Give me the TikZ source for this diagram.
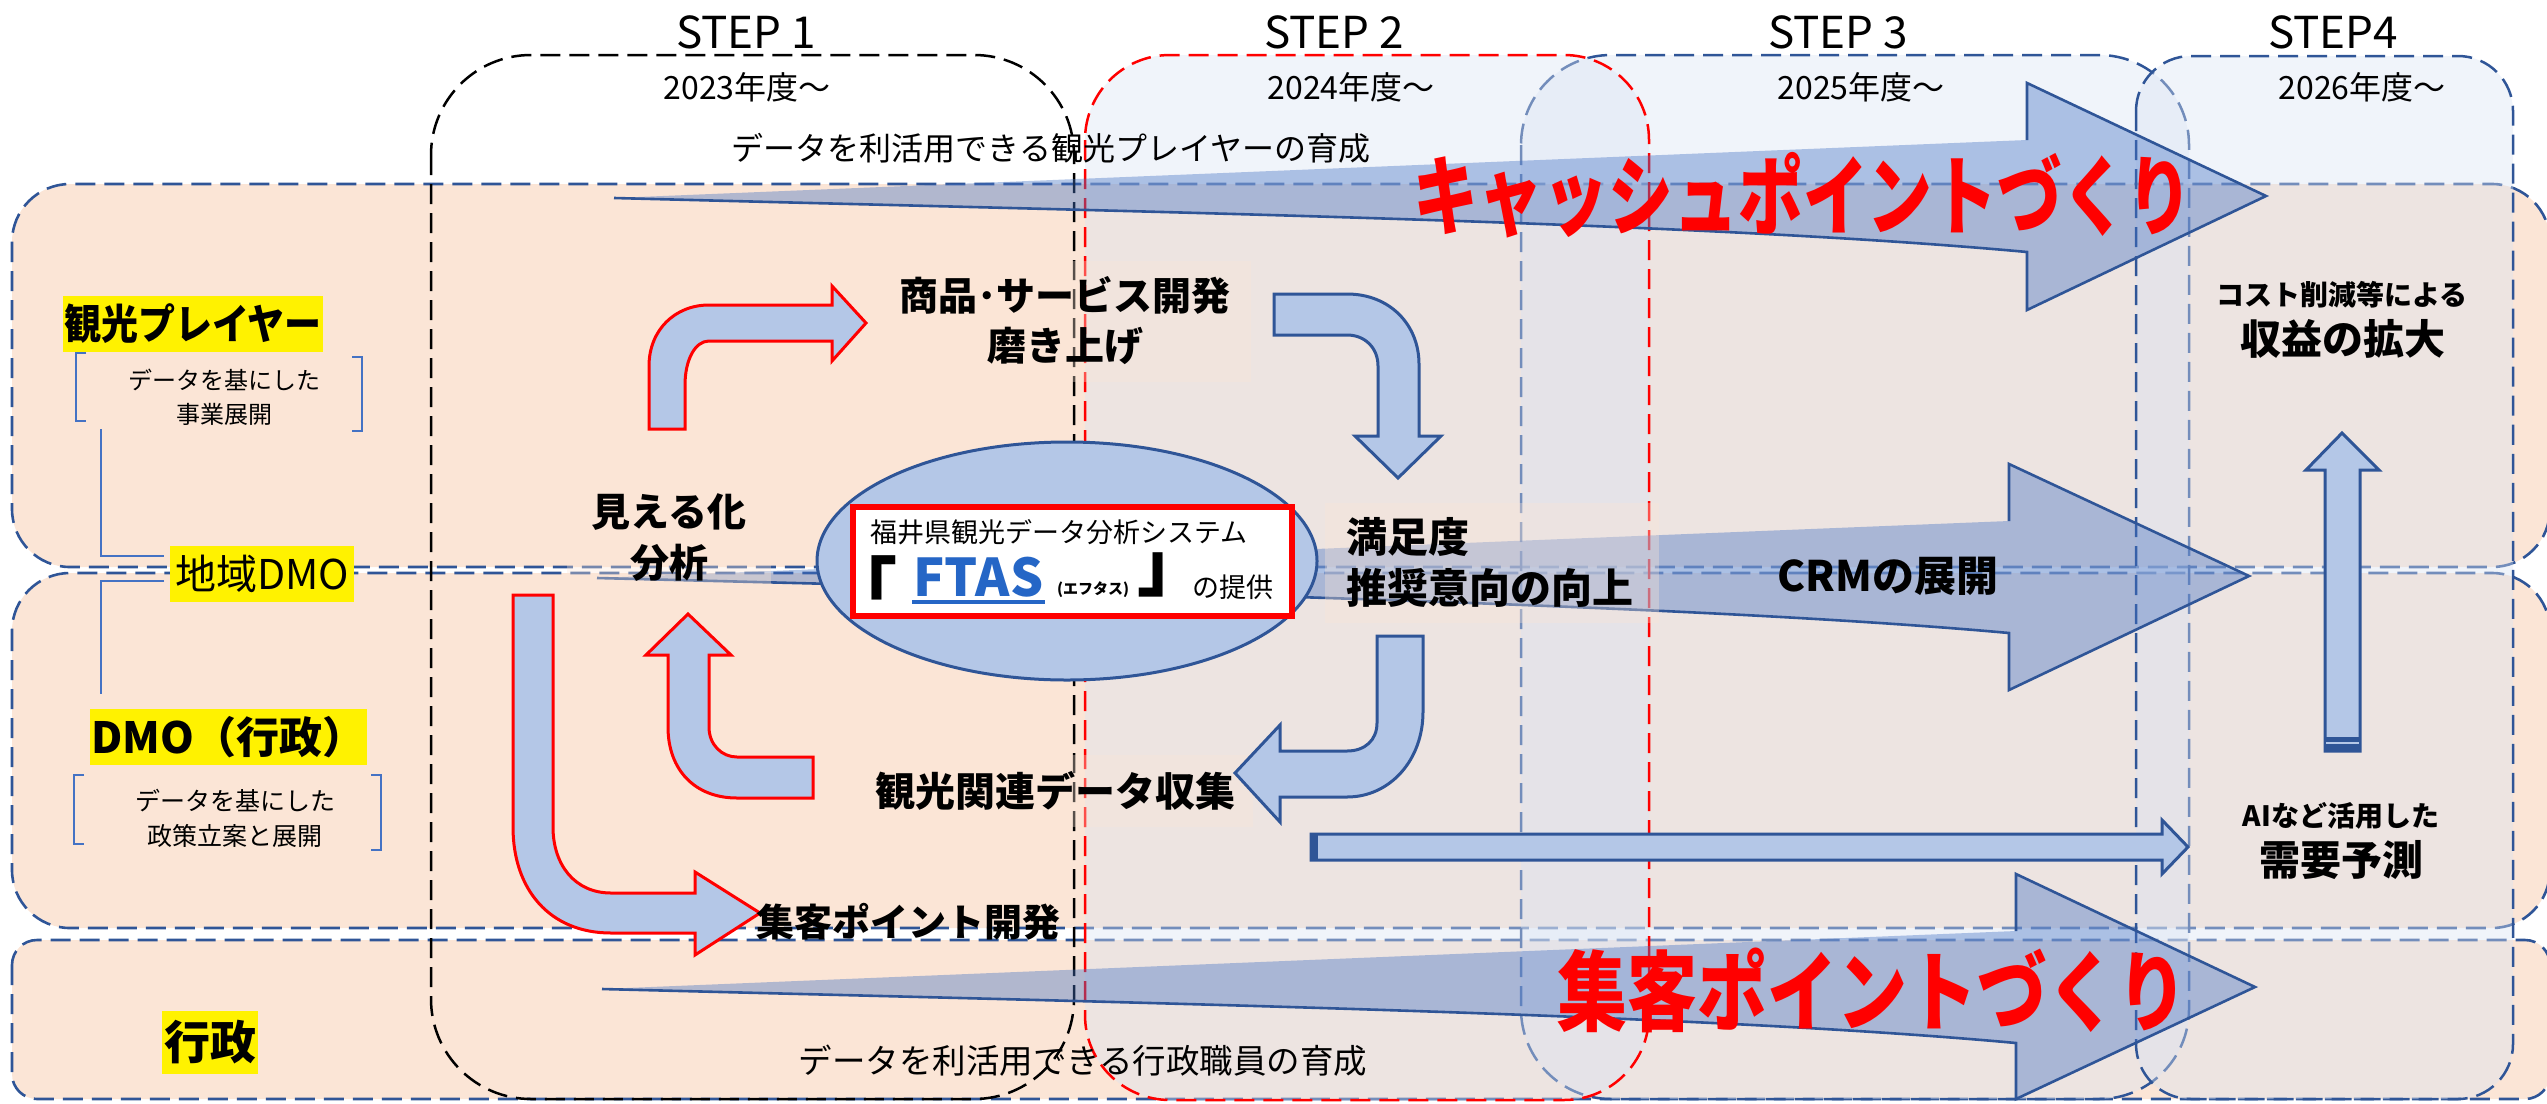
\documentclass[tikz,border=0pt]{standalone}
\usepackage{graphicx}
\usepackage{fontspec}
\setmainfont{Noto Sans CJK JP}
\usetikzlibrary{calc}
\definecolor{bandfill}{HTML}{FBE5D6}
\definecolor{bandline}{HTML}{2F5597}
\definecolor{stepfill}{HTML}{DAE3F3}
\definecolor{arrowfill}{HTML}{B4C7E7}
\definecolor{bigfill}{HTML}{4472C4}
\definecolor{ftasblue}{HTML}{2566C6}
\newcommand{\fs}[1]{\fontsize{#1}{#1}\selectfont}
\newcommand{\fsl}[2]{\fontsize{#1}{#2}\selectfont}
\tikzset{
  x=1pt,y=-1pt,
  bandbox/.style={draw=bandline,fill=bandfill,line width=2.6pt,dash pattern=on 20pt off 9pt},
  stepbox/.style={line width=2.5pt,dash pattern=on 20pt off 9pt,fill=stepfill,fill opacity=.4},
  txt/.style={inner sep=0pt,outer sep=0pt,text=black},
  yellowbox/.style={fill=yellow,inner sep=0pt,outer sep=0pt,text=black},
  haze/.style={fill=bandfill,fill opacity=.35,text opacity=1,inner sep=0pt,outer sep=0pt},
  bigarrow/.style={fill=bigfill,fill opacity=.4,draw=none},
  bigedge/.style={draw=bandline,line width=2.6pt,line join=miter},
  redarrow/.style={draw=red,fill=arrowfill,line width=3pt,line join=miter},
  bluearrow/.style={draw=bandline,fill=arrowfill,line width=3pt,line join=miter},
  bracket/.style={draw=bigfill,line width=1.5pt},
  bigred/.style={inner sep=0pt,outer sep=0pt,text=red,font=\bfseries},
}
\begin{document}
\begin{tikzpicture}
\useasboundingbox (0,0) rectangle (2547,1103);
% bands
\draw[bandbox,rounded corners=58pt] (12,184) rectangle (2550,567);
\draw[bandbox,rounded corners=58pt] (12,573) rectangle (2550,928);
\draw[bandbox,rounded corners=25pt] (12,940) rectangle (2550,1099);
% steps
\draw[stepbox,draw=bandline,rounded corners=90pt] (1521,55) rectangle (2189,1099);
\draw[stepbox,draw=bandline,rounded corners=55pt] (2136,56) rectangle (2513,1099);
\draw[stepbox,draw=red,rounded corners=85pt] (1085,55) rectangle (1649,1100);
\draw[line width=2.5pt,dash pattern=on 20pt off 9pt,draw=black,rounded corners=100pt] (431,55) rectangle (1074,1099);
% step labels
\node[txt,font=\fs{44}] (s1) at (746,32) {STEP 1};
\node[txt,font=\fs{44}] (s2) at (1334,32) {STEP 2};
\node[txt,font=\fs{44}] (s3) at (1838,32) {STEP 3};
\node[txt,font=\fs{44}] (s4) at (2333,32) {STEP4};
\node[txt,font=\fs{32}] (y1) at (747,87) {2023年度～};
\node[txt,font=\fs{32}] (y2) at (1351,87) {2024年度～};
\node[txt,font=\fs{32}] (y3) at (1861,87) {2025年度～};
\node[txt,font=\fs{32}] (y4) at (2362,87) {2026年度～};
\node[txt,font=\fs{32}] (t1) at (1051,148) {データを利活用できる観光プレイヤーの育成};
\node[txt,font=\fs{33.5}] (t2) at (1083,1061) {データを利活用できる行政職員の育成};
% big arrows
\fill[bigarrow] (614,198) -- (2027,140) -- (2027,83) -- (2266,196) -- (2027,310) -- (2027,252) .. controls (1700,222) and (1150,212) .. (614,198) -- cycle;
\draw[bigedge] (2027,140) -- (2027,83) -- (2266,196) -- (2027,310) -- (2027,252) .. controls (1700,222) and (1150,212) .. (614,198);
\fill[bigarrow] (597,578) -- (2009,521) -- (2009,464) -- (2249,576) -- (2009,690) -- (2009,633) .. controls (1700,605) and (1150,592) .. (597,578) -- cycle;
\draw[bigedge] (2009,521) -- (2009,464) -- (2249,576) -- (2009,690) -- (2009,633) .. controls (1700,605) and (1150,592) .. (597,578);
\fill[bigarrow] (602,989) -- (2016,931) -- (2016,874) -- (2255,987) -- (2016,1099) -- (2016,1043) .. controls (1700,1014) and (1150,1003) .. (602,989) -- cycle;
\draw[bigedge] (2016,931) -- (2016,874) -- (2255,987) -- (2016,1099) -- (2016,1043) .. controls (1700,1014) and (1150,1003) .. (602,989);
% haze label boxes
\node[haze,minimum width=372pt,minimum height=121pt,align=center,font=\bfseries\fsl{39}{50}] (shohin) at (1065,321) {商品･サービス開発\\磨き上げ};
\node[haze,minimum width=204pt,minimum height=120pt,align=center,font=\bfseries\fsl{39}{51}] (mieru) at (669,538) {見える化\\分析};
\node[haze,minimum width=334pt,minimum height=120pt] (mansokubox) at (1492,563) {};
\node[txt,anchor=west,align=left,font=\bfseries\fsl{41}{51}] (manzoku) at (1346,562) {満足度\\推奨意向の向上};
\node[haze,minimum width=396pt,minimum height=72pt,font=\bfseries\fs{40}] (data) at (1055,791) {観光関連データ収集};
% ellipse
\draw[bluearrow] (1067,561) ellipse [x radius=250,y radius=119];
\node[draw=red,line width=6pt,fill=white,minimum width=439pt,minimum height=109pt,inner sep=0pt] (ftasbox) at (1072.5,561.5) {};
\node[txt,font=\fs{27}] (fukui) at (1059,532) {福井県観光データ分析システム};
\node[txt,font=\bfseries\fs{52},text=ftasblue,anchor=center] (ftas) at (978.5,577) {FTAS};
\draw[ftasblue,line width=3.5pt] (912,602) -- (1045,602);
\node[txt,font=\bfseries\fs{15}] (ftask) at (1093,590) {(エフタス)};
\node[txt,font=\bfseries\fs{70}] (lb) at (862,586) {「};
\node[txt,font=\bfseries\fs{70}] (rb) at (1172,575) {」};
\node[txt,font=\fs{27}] (teikyo) at (1233,587) {の提供};
% bent arrows
\draw[redarrow] (649,429) -- (649,366) .. controls (649,330) and (675,305) .. (709,305) -- (832,305) -- (832,286) -- (866,323) -- (832,361) -- (832,341) -- (709,341) .. controls (695,341) and (685,360) .. (685,385) -- (685,429) -- cycle;
\draw[bluearrow] (1274,294) -- (1347,294) .. controls (1390,294) and (1419,325) .. (1419,364) -- (1419,436) -- (1441,436) -- (1398,478) -- (1355,436) -- (1378,436) -- (1378,366) .. controls (1378,348) and (1365,335) .. (1347,335) -- (1274,335) -- cycle;
\draw[bluearrow] (1377,636) -- (1423,636) -- (1423,712) .. controls (1423,760) and (1390,797) .. (1347,797) -- (1280,797) -- (1280,822) -- (1235,773) -- (1280,725) -- (1280,751) -- (1347,751) .. controls (1365,751) and (1377,740) .. (1377,723) -- cycle;
\draw[redarrow] (813,757) -- (737,757) .. controls (722,757) and (709,745) .. (709,727) -- (709,655) -- (731,655) -- (688,614) -- (646,655) -- (668,655) -- (668,727) .. controls (668,770) and (695,798) .. (737,798) -- (813,798) -- cycle;
\draw[redarrow] (513,595) -- (553,595) -- (553,827) .. controls (553,865) and (575,893) .. (611,893) -- (695,893) -- (695,872) -- (760,913) -- (695,955) -- (695,933) -- (611,933) .. controls (550,933) and (513,890) .. (513,827) -- cycle;
\draw[bluearrow] (1311,834) -- (2162,834) -- (2162,820) -- (2188,847) -- (2162,874) -- (2162,860) -- (1311,860) -- cycle;
\fill[bandline] (1310,833) rectangle (1318,861);
\draw[bluearrow] (2342,433) -- (2379,470) -- (2360,470) -- (2360,751) -- (2325,751) -- (2325,470) -- (2306,470) -- cycle;
\fill[bandline] (2325,737) rectangle (2360,752);
\draw[arrowfill,line width=1.5pt] (2326,743) -- (2359,743);
% labels
\node[txt,font=\bfseries\fs{38}] (shukyaku) at (908,922) {集客ポイント開発};
\node[txt,font=\bfseries\fs{42}] (crm) at (1888,576) {CRMの展開};
\node[txt,font=\bfseries\fs{28}] (cost) at (2342,295) {コスト削減等による};
\node[txt,font=\bfseries\fs{41}] (shueki) at (2343,339) {収益の拡大};
\node[txt,font=\bfseries\fs{28}] (ai) at (2341,816) {AIなど活用した};
\node[txt,font=\bfseries\fs{41}] (juyo) at (2341,860) {需要予測};
\node[bigred,font=\bfseries\fs{68}] (cash) at (1803,195) {\scalebox{.954}[1.28]{キャッシュポイントづくり}};
\node[bigred,font=\bfseries\fs{70}] (shuk2) at (1872,990) {\scalebox{1}[1.25]{集客ポイントづくり}};
% left labels
\node[yellowbox,minimum width=260pt,minimum height=56pt,font=\bfseries\fs{37}] (player) at (193,324) {\scalebox{1}[1.12]{観光プレイヤー}};
\node[txt,align=center,font=\fsl{24}{34}] (p2) at (224,397) {データを基にした\\事業展開};
\draw[bracket] (86,353) -- (76,353) -- (76,421) -- (86,421);
\draw[bracket] (352,357) -- (362,357) -- (362,431) -- (352,431);
\node[yellowbox,minimum width=184pt,minimum height=56pt,font=\fs{41}] (chiiki) at (262,574) {地域DMO};
\coordinate (c1) at (101,429);
\coordinate (c2) at (164,556);
\coordinate (c3) at (164,581);
\coordinate (c4) at (101,694);
\draw[bracket] (c1) |- (c2);
\draw[bracket] (c3) -| (c4);
\node[yellowbox,minimum width=277pt,minimum height=56pt,font=\bfseries\fs{43}] (dmo) at (228.5,737) {DMO（行政）};
\node[txt,align=center,font=\fsl{25}{35}] (d2) at (235,818) {データを基にした\\政策立案と展開};
\draw[bracket] (84,775) -- (74,775) -- (74,844) -- (84,844);
\draw[bracket] (371,775) -- (381,775) -- (381,850) -- (371,850);
\node[yellowbox,minimum width=96pt,minimum height=63pt,font=\bfseries\fs{46}] (gyosei) at (210,1042.5) {行政};
\end{tikzpicture}
\end{document}
